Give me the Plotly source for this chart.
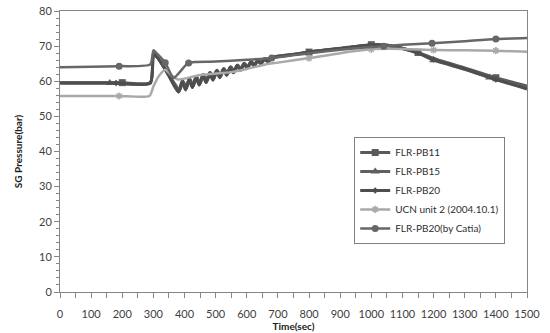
import plotly.graph_objects as go

# ---- data (time in sec, SG pressure in bar) ----
pb11_t = [0, 100, 200, 290, 300, 312, 330, 350, 368, 384, 395, 406, 417, 428, 439, 450, 461, 472, 483, 494, 505, 516,
          527, 538, 549, 560, 571, 582, 593, 604, 615, 626, 637, 648, 659, 670, 686, 750, 800, 900, 1000, 1050, 1100,
          1150, 1200, 1300, 1400, 1500]
pb11_p = [59.6, 59.6, 59.6, 59.6, 67.2, 66.8, 64.6, 61.8, 59.3, 57.4, 60.1, 58.0, 60.7, 58.6, 61.3, 59.3, 61.9, 60.0,
          62.5, 60.7, 63.1, 61.4, 63.6, 62.1, 64.1, 62.8, 64.6, 63.4, 65.1, 64.0, 65.6, 64.6, 66.1, 65.2, 66.5, 65.8,
          66.9, 67.7, 68.3, 69.4, 70.4, 70.3, 69.4, 68.2, 66.5, 63.8, 61.0, 58.6]
pb11_marks = [200, 800, 1000, 1150, 1400]

pb15_t = [0, 100, 160, 290, 300, 310, 330, 350, 366, 382, 393, 404, 415, 426, 437, 448, 459, 470, 481, 492, 503, 514,
          525, 536, 547, 558, 569, 580, 591, 602, 613, 624, 635, 646, 657, 668, 682, 750, 800, 900, 1000, 1050, 1100,
          1150, 1200, 1300, 1380, 1500]
pb15_p = [59.5, 59.5, 59.5, 59.5, 67.5, 67.1, 64.6, 61.6, 59.1, 57.1, 60.0, 57.7, 60.6, 58.3, 61.2, 59.0, 61.8, 59.7,
          62.4, 60.4, 63.0, 61.1, 63.5, 61.8, 64.0, 62.5, 64.5, 63.2, 65.0, 63.8, 65.5, 64.4, 66.0, 65.0, 66.4, 65.6,
          66.8, 67.6, 68.3, 69.3, 70.3, 70.2, 69.3, 68.0, 66.0, 63.4, 61.1, 58.1]
pb15_marks = [160, 1200, 1380]

pb20_t = [0, 100, 180, 290, 300, 310, 330, 350, 365, 381, 392, 403, 414, 425, 436, 447, 458, 469, 480, 491, 502, 513,
          524, 535, 546, 557, 568, 579, 590, 601, 612, 623, 634, 645, 656, 667, 678, 690, 750, 800, 900, 1000, 1050,
          1100, 1150, 1200, 1300, 1400, 1500]
pb20_p = [59.5, 59.5, 59.5, 59.5, 67.8, 67.2, 64.5, 61.5, 59.0, 56.9, 60.0, 57.5, 60.6, 58.2, 61.2, 58.9, 61.8, 59.6,
          62.4, 60.3, 63.0, 61.0, 63.5, 61.7, 64.0, 62.4, 64.5, 63.1, 65.0, 63.7, 65.5, 64.3, 66.0, 64.9, 66.4, 65.5,
          66.8, 66.9, 67.6, 68.3, 69.3, 70.3, 70.2, 69.3, 68.0, 66.2, 63.5, 60.5, 57.8]
pb20_marks = [180, 1200, 1400]

ucn_t = [0, 100, 190, 287, 300, 316, 338, 360, 380, 450, 550, 600, 670, 700, 800, 900, 1000, 1100, 1200, 1300, 1400, 1500]
ucn_p = [55.8, 55.8, 55.8, 55.8, 58.5, 61.3, 63.3, 61.5, 60.5, 61.8, 62.6, 63.5, 65.0, 65.3, 66.6, 68.0, 69.1, 69.2,
         68.9, 68.8, 68.7, 68.4]
ucn_marks = [190, 800, 1000, 1200, 1400]

catia_t = [0, 100, 190, 290, 300, 310, 338, 365, 413, 500, 600, 680, 800, 900, 1040, 1100, 1195, 1300, 1400, 1500]
catia_p = [64.0, 64.1, 64.3, 64.8, 68.8, 68.0, 65.3, 61.0, 65.2, 65.6, 66.1, 66.6, 68.0, 69.0, 70.0, 70.4, 70.8, 71.4,
           72.0, 72.3]
catia_marks = [190, 338, 413, 680, 1040, 1195, 1400]

series = [
    ("FLR-PB11", pb11_t, pb11_p, pb11_marks, "#5a5a5a", "square", 7, 3),
    ("FLR-PB15", pb15_t, pb15_p, pb15_marks, "#606060", "triangle-up", 8, 3),
    ("FLR-PB20", pb20_t, pb20_p, pb20_marks, "#4e4e4e", "diamond", 5, 3),
    ("UCN unit 2 (2004.10.1)", ucn_t, ucn_p, ucn_marks, "#a9a9a9", "asterisk-open", 6, 2.5),
    ("FLR-PB20(by Catia)", catia_t, catia_p, catia_marks, "#676767", "circle", 7, 2.5),
]

x_ticks = list(range(0, 1501, 100))
y_ticks = list(range(0, 81, 10))

fig = go.Figure()
for i, (name, t, p, marks, col, sym, ms, lw) in enumerate(series):
    fig.add_trace(go.Scatter(x=t, y=p, mode="lines",
                             line=dict(color=col, width=lw, shape="spline", smoothing=0.6),
                             showlegend=False, hoverinfo="skip"))
    mx = [tt for tt in t if tt in marks]
    my = [pp for tt, pp in zip(t, p) if tt in marks]
    mline = dict(color=col, width=1.5) if sym == "asterisk-open" else dict(width=0)
    fig.add_trace(go.Scatter(x=mx, y=my, mode="markers",
                             marker=dict(symbol=sym, size=ms, color=col, line=mline),
                             showlegend=False, hoverinfo="skip"))
    fig.add_trace(go.Scatter(x=[None], y=[None], mode="lines+markers", name=name,
                             line=dict(color=col, width=lw),
                             marker=dict(symbol=sym, size=ms, color=col, line=mline)))

axis_common = dict(showline=True, linecolor="#868686", linewidth=1, mirror=True, showgrid=False,
                   zeroline=False, ticks="outside", tickcolor="#868686", ticklen=5, automargin=False,
                   tickfont=dict(family="Lato", size=11, color="#404040"))

fig.update_xaxes(range=[0, 1500], tickvals=x_ticks, ticktext=[str(v) for v in x_ticks],
                 minor=dict(dtick=50, ticks="outside", ticklen=5, tickcolor="#868686"),
                 ticklabelstandoff=7,
                 title=dict(text="<b>Time(sec)</b>", font=dict(family="Lato", size=10, color="#202020"),
                            standoff=2),
                 **axis_common)
fig.update_yaxes(range=[0, 80], tickvals=y_ticks, ticktext=[str(v) for v in y_ticks],
                 minor=dict(dtick=2, ticks="outside", ticklen=3, tickcolor="#868686"),
                 title=dict(text="<b>SG Pressure(bar)</b>", font=dict(family="Lato", size=10, color="#202020"),
                            standoff=14),
                 **axis_common)

fig.update_layout(
    width=550, height=333,
    margin=dict(l=60, r=23, t=11, b=41),
    paper_bgcolor="white", plot_bgcolor="white",
    legend=dict(x=0.63, y=0.552, xanchor="left", yanchor="top",
                bordercolor="#808080", borderwidth=1, bgcolor="white",
                font=dict(family="Lato", size=10, color="#303030"),
                tracegroupgap=0, itemwidth=30),
)

fig.write_html("out.html")
